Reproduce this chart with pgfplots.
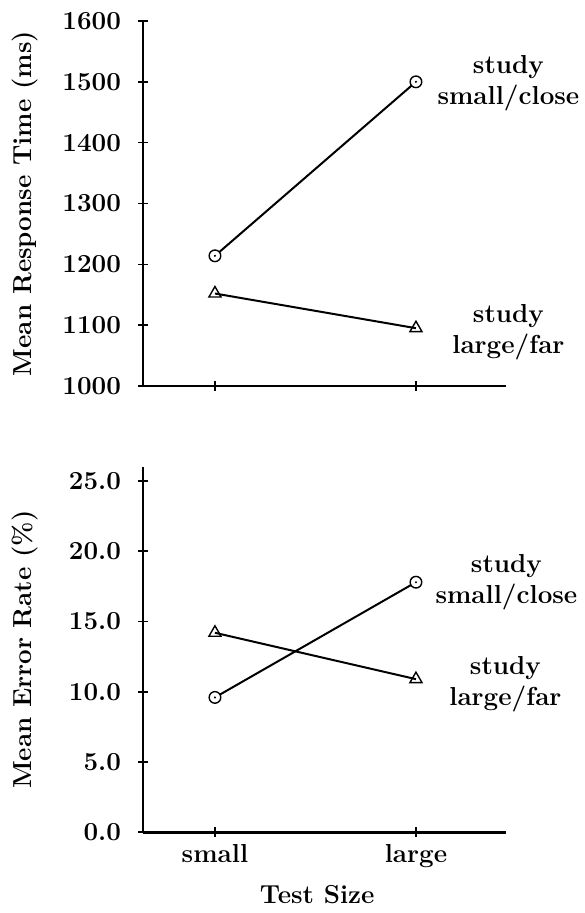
\documentclass[border=0pt]{standalone}
\usepackage{pgfplots}
\pgfplotsset{compat=1.18}
\pgfdeclareplotmark{odot}{%
  \pgfpathcircle{\pgfpointorigin}{\pgfplotmarksize}%
  \pgfusepathqfillstroke
  \begin{pgfscope}%
  \pgfpathcircle{\pgfpointorigin}{0.2\pgfplotmarksize}%
  \pgfsetfillcolor{black}%
  \pgfusepathqfill
  \end{pgfscope}%
}
\begin{document}
\begin{tikzpicture}[font=\fontsize{13}{15.5}\selectfont\bfseries]
\path[use as bounding box] (0,0) rectangle (292pt,456.5pt);
\pgfplotsset{
  myaxis/.style={
    scale only axis, width=181.5pt,
    axis lines=left, axis line style={-, line width=1.3pt},
    xmin=-0.358, xmax=1.448, xtick={0,1},
    tick align=center, major tick length=5pt,
    tick style={line width=0.8pt, black},
    clip=false,
    /pgf/number format/assume math mode=true,
    /pgf/number format/1000 sep={},
    ticklabel style={font=\fontsize{13}{15.5}\selectfont\bfseries},
    every axis y label/.style={at={(axis description cs:-0.324,0.5)}, rotate=90, anchor=center},
    yticklabel style={xshift=-5pt},
    xticklabel style={yshift=0pt},
    every axis plot/.append style={black, line width=1pt},
    circ/.style={mark=odot, mark size=2.9pt, mark options={fill=white, line width=0.7pt}},
    tri/.style={mark=triangle, mark size=3.5pt, mark options={fill=white, line width=0.7pt}},
  }
}
\begin{axis}[myaxis, at={(71.5pt,263.5pt)}, anchor=south west, height=182.5pt,
  ymin=1000, ymax=1600, ytick={1000,1100,...,1600}, xticklabels={},
  ylabel={Mean Response Time (ms)}]
\addplot[circ] coordinates {(0,1214) (1,1500)};
\addplot[tri] coordinates {(0,1152) (1,1095)};
\node[align=center, anchor=center] at (axis cs:1.46,1497) {study\\small/close};
\node[align=center, anchor=center] at (axis cs:1.46,1089) {study\\large/far};
\end{axis}
\begin{axis}[myaxis, at={(71.5pt,40.35pt)}, anchor=south west, height=182.65pt,
  ymin=0, ymax=26, ytick={0,5,...,25},
  yticklabel={\pgfmathprintnumber[fixed,zerofill,precision=1]{\tick}},
  xticklabels={small,large},
  xlabel={Test Size},
  xlabel style={at={(axis description cs:0.48,-0.17)}, anchor=center},
  ylabel={Mean Error Rate (\%)}]
\addplot[circ] coordinates {(0,9.6) (1,17.8)};
\addplot[tri] coordinates {(0,14.2) (1,10.9)};
\node[align=center, anchor=center] at (axis cs:1.45,17.8) {study\\small/close};
\node[align=center, anchor=center] at (axis cs:1.445,10.55) {study\\large/far};
\end{axis}
\end{tikzpicture}
\end{document}
